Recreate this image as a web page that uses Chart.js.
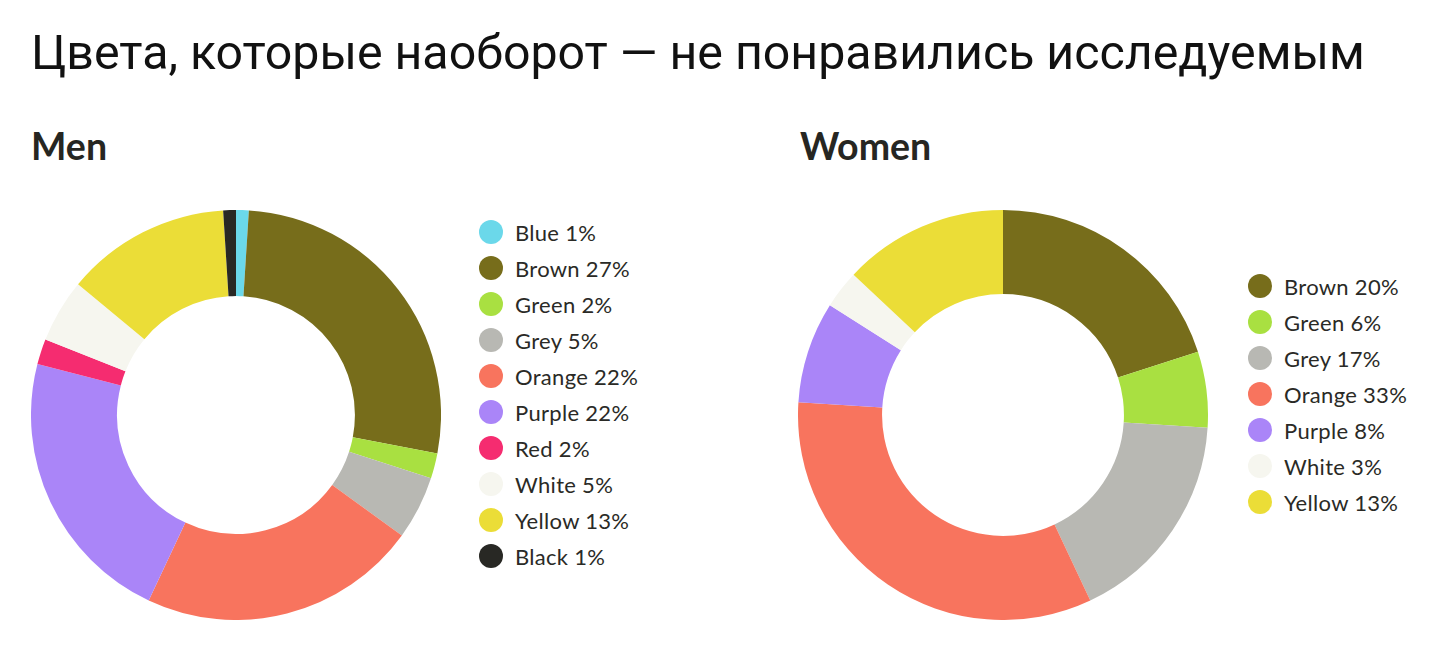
<!DOCTYPE html>
<html>
<head>
<meta charset="utf-8">
<script src="https://cdn.jsdelivr.net/npm/chart.js@4"></script>
<style>
  html, body { margin: 0; padding: 0; background: #fff; }
  body { width: 1441px; height: 648px; position: relative; overflow: hidden; }
  .title { position: absolute; left: 31px; top: 24px; font: 400 48.3px Roboto, sans-serif; color: #111; white-space: nowrap; }
  .sub { position: absolute; top: 123px; font: 700 37.5px Lato, sans-serif; color: #262622; }
  .box { position: absolute; top: 210px; width: 410px; height: 410px; }
  .legend { position: absolute; font: 400 22px Lato, sans-serif; letter-spacing: 0.3px; color: #2a2a26; }
  .legend div { height: 36px; display: flex; align-items: center; white-space: nowrap; }
  .legend span { display: inline-block; width: 24px; height: 24px; border-radius: 50%; margin-right: 12px; }
</style>
</head>
<body>
<div class="title">Цвета, которые наоборот — не понравились исследуемым</div>
<div class="sub" style="left:31px">Men</div>
<div class="sub" style="left:800px">Women</div>
<div class="box" style="left:31px"><canvas id="menChart"></canvas></div>
<div class="box" style="left:798px"><canvas id="womenChart"></canvas></div>
<div class="legend" id="menLegend" style="left:479px; top:214px"></div>
<div class="legend" id="womenLegend" style="left:1248px; top:268px"></div>
<script>
const PALETTE = {
  Blue: '#6bd8ea',
  Brown: '#776d1b',
  Green: '#a9e041',
  Grey: '#b8b8b3',
  Orange: '#f8745e',
  Purple: '#aa85f8',
  Red: '#f52c70',
  White: '#f6f6ef',
  Yellow: '#ebdd37',
  Black: '#282824',
}

// Men
const menLabels = ['Blue', 'Brown', 'Green', 'Grey', 'Orange', 'Purple', 'Red', 'White', 'Yellow', 'Black']
const menValues = [1, 27, 2, 5, 22, 22, 2, 5, 13, 1]

// Women
const womenLabels = ['Brown', 'Green', 'Grey', 'Orange', 'Purple', 'White', 'Yellow']
const womenValues = [20, 6, 17, 33, 8, 3, 13]

function renderDonut(id, labels, values, cutout) {
  return new Chart(document.getElementById(id), {
    type: 'doughnut',
    data: {
      labels,
      datasets: [{
        data: values,
        backgroundColor: labels.map(l => PALETTE[l]),
        borderWidth: 0,
      }]
    },
    options: {
      responsive: true,
      maintainAspectRatio: false,
      animation: false,
      cutout,
      layout: { padding: 0 },
      plugins: { legend: { display: false }, tooltip: { enabled: false } },
    },
  })
}

function renderLegend(id, chart) {
  const el = document.getElementById(id)
  const ds = chart.data.datasets[0]
  chart.data.labels.forEach((l, i) => {
    const row = document.createElement('div')
    const dot = document.createElement('span')
    dot.style.background = ds.backgroundColor[i]
    row.appendChild(dot)
    row.appendChild(document.createTextNode(l + ' ' + ds.data[i] + '%'))
    el.appendChild(row)
  })
}

const men = renderDonut('menChart', menLabels, menValues, '58%')
const women = renderDonut('womenChart', womenLabels, womenValues, '59%')
renderLegend('menLegend', men)
renderLegend('womenLegend', women)
</script>
</body>
</html>
